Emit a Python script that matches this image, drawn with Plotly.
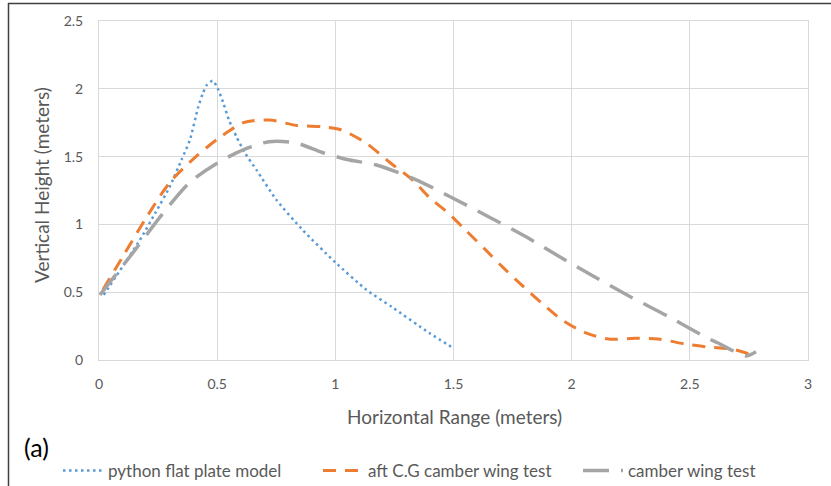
import plotly.graph_objects as go

# Trajectory data (horizontal range vs vertical height, meters)
flat_x = [0.02, 0.1, 0.173, 0.24, 0.30, 0.35, 0.384, 0.419, 0.44, 0.457, 0.481, 0.503, 0.525, 0.55, 0.582, 0.62,
          0.667, 0.751, 0.861, 1.0, 1.13, 1.24, 1.397, 1.502]
flat_y = [0.48, 0.69, 0.885, 1.09, 1.28, 1.48, 1.62, 1.86, 1.97, 2.03, 2.06, 2.0, 1.90, 1.77, 1.645, 1.52,
          1.40, 1.18, 0.96, 0.72, 0.52, 0.39, 0.2, 0.085]

aft_x = [0.017, 0.1, 0.2, 0.3, 0.41, 0.51, 0.61, 0.72, 0.835, 0.945, 1.02, 1.13, 1.228, 1.325, 1.397, 1.48,
         1.55, 1.637, 1.705, 1.79, 1.873, 1.96, 2.06, 2.156, 2.27, 2.367, 2.48, 2.578, 2.68, 2.76]
aft_y = [0.52, 0.76, 1.05, 1.31, 1.50, 1.64, 1.75, 1.77, 1.73, 1.72, 1.70, 1.60, 1.46, 1.33, 1.20, 1.08,
         0.96, 0.81, 0.69, 0.55, 0.42, 0.295, 0.2, 0.155, 0.16, 0.155, 0.118, 0.096, 0.08, 0.04]

camber_x = [0.004, 0.143, 0.27, 0.384, 0.498, 0.61, 0.72, 0.835, 0.945, 1.06, 1.17, 1.34, 1.49, 1.65,
            1.805, 1.96, 2.10, 2.25, 2.41, 2.565, 2.62, 2.68, 2.74, 2.78]
camber_y = [0.48, 0.79, 1.08, 1.31, 1.45, 1.55, 1.61, 1.60, 1.53, 1.475, 1.44, 1.33, 1.20, 1.055,
            0.91, 0.75, 0.61, 0.465, 0.32, 0.17, 0.125, 0.07, 0.03, 0.06]

x_ticks = [0, 0.5, 1, 1.5, 2, 2.5, 3]
x_tick_text = ["0", "0.5", "1", "1.5", "2", "2.5", "3"]
y_ticks = [0, 0.5, 1, 1.5, 2, 2.5]
y_tick_text = ["0", "0.5", "1", "1.5", "2", "2.5"]

FONT = "Lato, Open Sans, sans-serif"
TXT = "#595959"
GRID = "#D9D9D9"

fig = go.Figure()
fig.add_trace(go.Scatter(x=flat_x, y=flat_y, mode="lines", name="python flat plate model",
                         line=dict(color="#5B9BD5", width=2.5, dash="2.5px,3.5px", shape="spline", smoothing=0.6)))
fig.add_trace(go.Scatter(x=aft_x, y=aft_y, mode="lines", name="aft C.G camber wing test",
                         line=dict(color="#ED7D31", width=3, dash="13px,9px", shape="spline", smoothing=0.8)))
fig.add_trace(go.Scatter(x=camber_x, y=camber_y, mode="lines", name="camber wing test",
                         line=dict(color="#A5A5A5", width=3.5, dash="26px,12px", shape="spline", smoothing=0.8)))

fig.update_xaxes(range=[0, 3], tickvals=x_ticks, ticktext=x_tick_text, showgrid=True, gridcolor=GRID,
                 gridwidth=1, zeroline=False, showline=True, linecolor=GRID, mirror=True,
                 tickfont=dict(family=FONT, size=14, color=TXT), ticks="", ticklabelstandoff=11)
fig.update_yaxes(range=[0, 2.5], tickvals=y_ticks, ticktext=y_tick_text, showgrid=True, gridcolor=GRID,
                 gridwidth=1, zeroline=False, showline=True, linecolor=GRID, mirror=True,
                 tickfont=dict(family=FONT, size=14, color=TXT), ticks="", ticklabelstandoff=12)

# paper coordinate helpers for the 831x486 canvas
W, H = 831, 486
L, R, T, B = 99, 808, 21, 360
def px(x):
    return (x - L) / (R - L)
def py(y):
    return (B - y) / (B - T)

fig.update_layout(
    width=W, height=H,
    margin=dict(l=L, r=W - R, t=T, b=H - B, autoexpand=False),
    plot_bgcolor="white", paper_bgcolor="white",
    showlegend=True,
    legend=dict(orientation="h", xref="paper", yref="paper",
                x=px(58), xanchor="left", y=py(471), yanchor="middle",
                font=dict(family=FONT, size=17, color=TXT), itemwidth=40, tracegroupgap=0,
                entrywidth=205, entrywidthmode="pixels",
                bgcolor="rgba(0,0,0,0)"),
    annotations=[
        dict(text="Horizontal Range (meters)", x=px(454), y=py(416), xref="paper", yref="paper",
             xanchor="center", yanchor="middle",
             showarrow=False, font=dict(family=FONT, size=19, color=TXT)),
        dict(text="Vertical Height (meters)", x=px(41), y=py(185), xref="paper", yref="paper",
             xanchor="center", yanchor="middle",
             showarrow=False, textangle=-90, font=dict(family=FONT, size=19, color=TXT)),
        dict(text="(a)", x=px(22), y=py(447), xref="paper", yref="paper", xanchor="left",
             yanchor="middle",
             showarrow=False, font=dict(family=FONT, size=25, color="black")),
    ],
    shapes=[
        dict(type="line", xref="paper", yref="paper", x0=px(8.5), x1=px(8.5), y0=py(3), y1=py(486),
             line=dict(color="#3f3f3f", width=1.5)),
        dict(type="line", xref="paper", yref="paper", x0=px(8), x1=px(831), y0=py(3.5), y1=py(3.5),
             line=dict(color="#3f3f3f", width=1.5)),
    ],
)

fig.write_html("out.html")
